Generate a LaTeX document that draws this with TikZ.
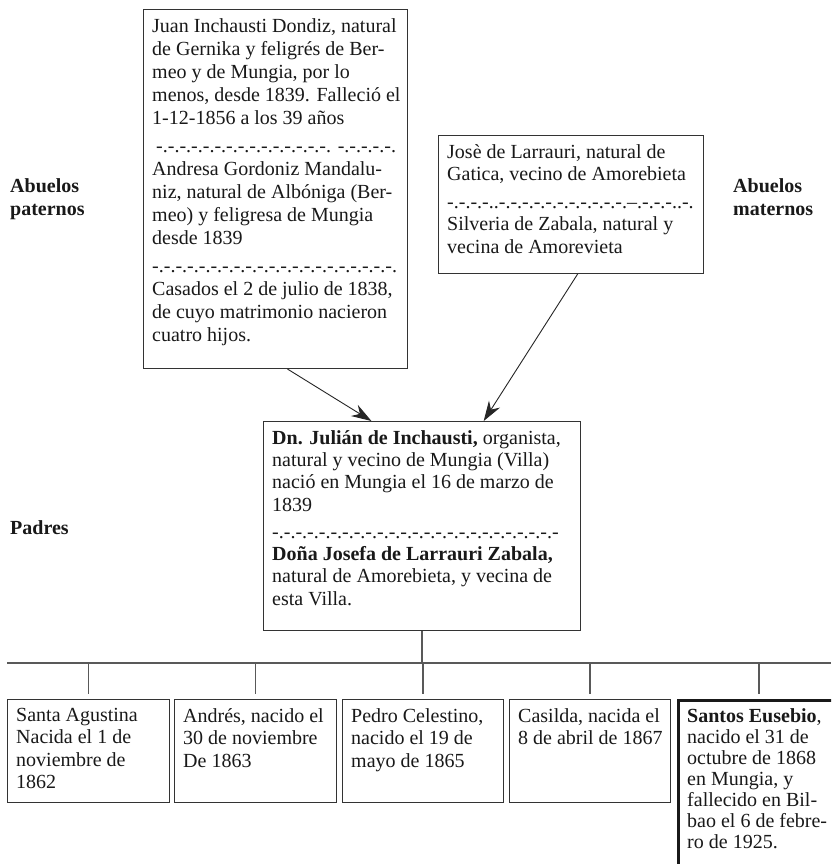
\documentclass[tikz,border=0pt]{standalone}
\usepackage{fontspec}
\setmainfont{Liberation Serif}
\usetikzlibrary{arrows.meta,calc}

\tikzset{
  marco/.style={draw=black!80, line width=1pt, inner sep=0pt, anchor=north west},
  texto/.style={align=left, inner sep=0pt, anchor=north west, text=black!90, font=\fontsize{20}{22.5}\selectfont},
  etiqueta/.style={align=left, inner sep=0pt, anchor=north west, text=black!90, font=\fontsize{20}{23}\selectfont\bfseries},
  flecha/.style={line width=0.9pt, black!85, -{Stealth[length=20pt,width=13pt]}},
  rama/.style={draw=black!65, line width=1.2pt},
}

\begin{document}
\begin{tikzpicture}[x=1pt,y=-1pt]
\clip (0,0) rectangle (831,864);
\fill[white] (0,0) rectangle (831,864);

% etiquetas de la izquierda y derecha
\node[etiqueta] (lpat) at (10,178) {Abuelos\\paternos};
\node[etiqueta] (lmat) at (733,178) {Abuelos\\maternos};
\node[etiqueta] (lpad) at (10,520) {Padres};

% abuelos paternos
\node[marco, minimum width=264pt, minimum height=359pt] (pat) at (143,9) {};
\node[texto, font=\fontsize{20}{23}\selectfont] (pattxt) at ([shift={(9pt,-9pt)}]pat.north west) {Juan Inchausti Dondiz, natural\\
de Gernika y feligrés de Ber-\\
meo y de Mungia, por lo\\
menos, desde 1839. Falleció el\\
1-12-1856 a los 39 años\\[5pt]
\hspace*{4pt}-.-.-.-.-.-.-.-.-.-.-.-.-.-.-. -.-.-.-.-.\\
Andresa Gordoniz Mandalu-\\
niz, natural de Albóniga (Ber-\\
meo) y feligresa de Mungia\\
desde 1839\\[5pt]
-.-.-.-.-.-.-.-.-.-.-.-.-.-.-.-.-.-.-.-.-.\\
Casados el 2 de julio de 1838,\\
de cuyo matrimonio nacieron\\
cuatro hijos.};

% abuelos maternos
\node[marco, minimum width=265pt, minimum height=138pt] (mat) at (438,135) {};
\node[texto] (mattxt) at ([shift={(9pt,-9pt)}]mat.north west) {Josè de Larrauri, natural de\\
Gatica, vecino de Amorebieta\\[5pt]
-.-.-.-..-.-.-.-.-.-.-.-.-.-.-.--.-.-.-..-.\\
Silveria de Zabala, natural y\\
vecina de Amorevieta};

% padres
\node[marco, minimum width=317pt, minimum height=209pt] (par) at (263,421) {};
\node[texto, font=\fontsize{20}{22.3}\selectfont] (partxt) at ([shift={(9pt,-9pt)}]par.north west) {\textbf{Dn. Julián de Inchausti,} organista,\\
natural y vecino de Mungia (Villa)\\
nació en Mungia el 16 de marzo de\\
1839\\[5pt]
-.-.-.-.-.-.-.-.-.-.-.-.-.-.-.-.-.-.-.-.-.-.-.-.-\\
\textbf{Doña Josefa de Larrauri Zabala,}\\
natural de Amorebieta, y vecina de\\
esta Villa.};

\draw[flecha] ($(pat.south west)!0.545!(pat.south east)$) -- ($(par.north west)!0.341!(par.north east)$);
\draw[flecha] ($(mat.south west)!0.525!(mat.south east)$) -- ($(par.north west)!0.694!(par.north east)$);

% hijos
\node[marco, minimum width=162pt, minimum height=103pt] (h1) at (7,699) {};
\node[marco, minimum width=162pt, minimum height=103pt] (h2) at (174,699) {};
\node[marco, minimum width=161pt, minimum height=103pt] (h3) at (342,699) {};
\node[marco, minimum width=161pt, minimum height=103pt] (h4) at (509,699) {};
\node[marco, line width=3pt, draw=black!90, minimum width=161pt, minimum height=190pt] (h5) at (677,699) {};

\node[texto] (h1txt) at ([shift={(9pt,-9pt)}]h1.north west) {Santa Agustina\\
Nacida el 1 de\\
noviembre de\\
1862};
\node[texto] (h2txt) at ([shift={(9pt,-9pt)}]h2.north west) {Andrés, nacido el\\
30 de noviembre\\
De 1863};
\node[texto] (h3txt) at ([shift={(9pt,-9pt)}]h3.north west) {Pedro Celestino,\\
nacido el 19 de\\
mayo de 1865};
\node[texto] (h4txt) at ([shift={(9pt,-9pt)}]h4.north west) {Casilda, nacida el\\
8 de abril de 1867};
\node[texto, font=\fontsize{20}{21}\selectfont] (h5txt) at ([shift={(10pt,-9pt)}]h5.north west) {\textbf{Santos Eusebio},\\
nacido el 31 de\\
octubre de 1868\\
en Mungia, y\\
fallecido en Bil-\\
bao el 6 de febre-\\
ro de 1925.};

% ramas
\coordinate (barraI) at (7,663);
\coordinate (barraD) at (831,663);
\draw[rama] (barraI) -- (barraD);
\draw[rama] (par.south) -- (par.south |- barraI);
\draw[rama] (h1.north |- barraI) -- ([yshift=5pt]h1.north);
\draw[rama] (h2.north |- barraI) -- ([yshift=5pt]h2.north);
\draw[rama] (h3.north |- barraI) -- ([yshift=5pt]h3.north);
\draw[rama] (h4.north |- barraI) -- ([yshift=5pt]h4.north);
\draw[rama] (h5.north |- barraI) -- ([yshift=5pt]h5.north);
\end{tikzpicture}
\end{document}
